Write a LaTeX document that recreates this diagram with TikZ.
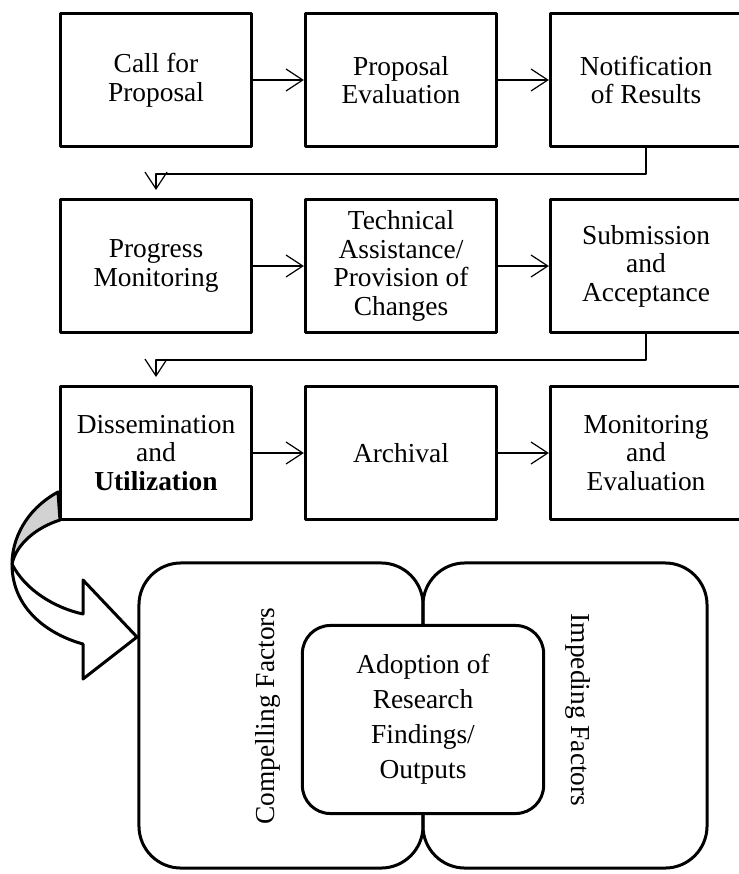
\documentclass[tikz,border=0pt]{standalone}
\usepackage{fontspec}
\setmainfont{Liberation Serif}
\usetikzlibrary{arrows.meta}

\begin{document}
\begin{tikzpicture}[x=0.025cm, y=-0.025cm, line join=round,
  stage/.style={draw, line width=0.075cm, minimum width=4.78cm, minimum height=3.325cm,
    inner sep=0pt, align=center, font=\fontsize{19.5pt}{20.3pt}\selectfont},
  flow/.style={line width=0.03cm, -{Straight Barb[length=0.42cm, width=0.55cm]}},
  factor/.style={draw, line width=0.075cm, rounded corners=1.05cm, minimum width=7.1cm, minimum height=7.625cm},
  core/.style={draw, fill=white, line width=0.075cm, rounded corners=0.7cm, minimum width=6.03cm,
    minimum height=4.7cm, align=center, font=\fontsize{19.5pt}{24.9pt}\selectfont},
  side/.style={font=\fontsize{19.5pt}{20.3pt}\selectfont},
  ribbon/.style={line width=0.075cm}]

\useasboundingbox (0,0) rectangle (738,874);

\draw[ribbon, fill=gray!35] (58,492) .. controls (25,510) and (12,540) .. (12,564)
  .. controls (16,545) and (35,528) .. (60,520) -- cycle;
\draw[ribbon, fill=white] (12,564) .. controls (12,610) and (50,635) .. (83,644) -- (83,679)
  -- (137,637) -- (83,580) -- (83,614) .. controls (55,608) and (25,590) .. (12,564) -- cycle;

\node[stage] (call) at (156,80) {Call for\\Proposal};
\node[stage] (eval) at (401,80) {Proposal\\Evaluation};
\node[stage] (notif) at (646,80) {Notification\\of Results};
\node[stage] (prog) at (156,266) {Progress\\Monitoring};
\node[stage] (tech) at (401,266) {Technical\\Assistance/\\Provision of\\Changes};
\node[stage] (subm) at (646,266) {Submission\\and\\Acceptance};
\node[stage] (diss) at (156,453) {Dissemination\\and\\\textbf{Utilization}};
\node[stage] (arch) at (401,453) {Archival};
\node[stage] (mone) at (646,453) {Monitoring\\and\\Evaluation};

\draw[flow] (call) -- (eval);
\draw[flow] (eval) -- (notif);
\draw[flow] (prog) -- (tech);
\draw[flow] (tech) -- (subm);
\draw[flow] (diss) -- (arch);
\draw[flow] (arch) -- (mone);
\draw[flow, shorten >=0.2cm] (notif.south) -- ++(0,26) -| (prog.north);
\draw[flow, shorten >=0.2cm] (subm.south) -- ++(0,26) -| (diss.north);

\node[factor] (compel) at (281,715.5) {};
\node[factor] (imped) at (565,715.5) {};
\node[core] (adopt) at (423,719.5) {Adoption of\\Research\\Findings/\\Outputs};
\node[side, rotate=90] (compeltxt) at (268,716) {Compelling Factors};
\node[side, rotate=-90] (impedtxt) at (578,710) {Impeding Factors};

\end{tikzpicture}
\end{document}
